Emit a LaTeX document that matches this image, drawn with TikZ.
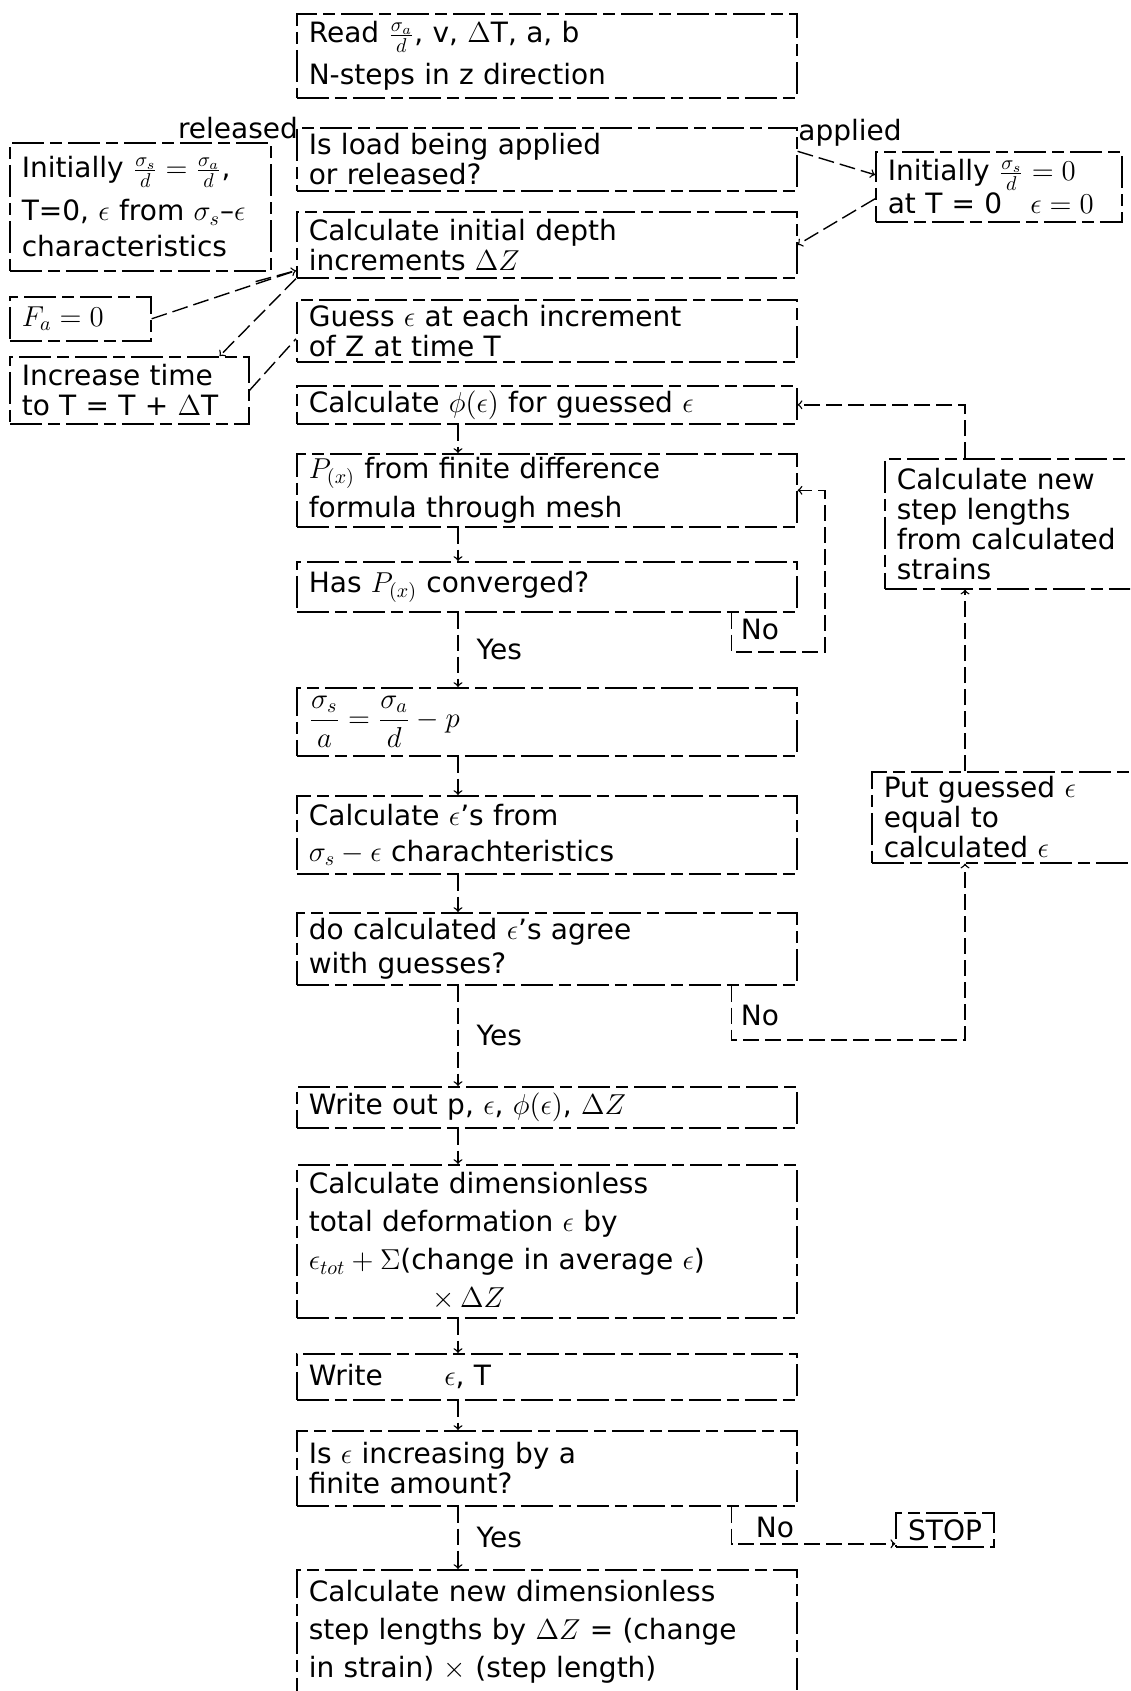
\documentclass[tikz,border=0pt]{standalone}
\usepackage{fontspec}
\setmainfont{DejaVu Sans}
\usetikzlibrary{positioning}

\tikzset{
	stepbox/.style={draw, line width=0.8pt, dash pattern=on 16pt off 3pt on 6pt off 3pt,
		anchor=north west, align=left, inner xsep=6pt, inner ysep=1pt,
		font=\fontsize{14}{15}\selectfont},
	mainbox/.style={stepbox, text width=238pt},
	flow/.style={->, line width=0.7pt, dash pattern=on 8pt off 3pt},
	link/.style={line width=0.7pt, dash pattern=on 8pt off 3pt},
	lbl/.style={font=\fontsize{14}{15}\selectfont, inner sep=1pt}
}

\begin{document}
\begin{tikzpicture}[x=0.5pt, y=-0.5pt]
	\useasboundingbox (0,0) rectangle (1130,1691);
	\clip (0,0) rectangle (1130,1691);
	\coordinate (stem) at (458,0);

	% main column
	\node[mainbox, minimum height=42pt] (read) at (296,13) {Read $\frac{\sigma_a}{d}$, v, $\Delta$T, a, b\\[4pt]N-steps in z direction};
	\node[mainbox, minimum height=31.5pt] (load) at (296,127) {Is load being applied\\or released?};
	\node[mainbox, minimum height=33pt] (calcinit) at (296,211) {Calculate initial depth\\increments $\Delta Z$};
	\node[mainbox, minimum height=31pt] (guess) at (296,299) {Guess $\epsilon$ at each increment\\of Z at time T};
	\node[mainbox, minimum height=19pt] (phi) at (296,385) {Calculate $\phi(\epsilon)$ for guessed $\epsilon$};
	\node[mainbox, minimum height=36.5pt] (px) at (296,453) {$P_{(x)}$ from finite difference\\[3pt]formula through mesh};
	\node[mainbox, minimum height=25pt] (conv) at (296,561) {Has $P_{(x)}$ converged?};
	\node[mainbox, minimum height=34pt] (sig) at (296,687) {$\displaystyle\frac{\sigma_s}{a} = \frac{\sigma_a}{d} - p$};
	\node[mainbox, minimum height=39pt] (calce) at (296,795) {Calculate $\epsilon$'s from\\[3pt]$\sigma_s - \epsilon$ charachteristics};
	\node[mainbox, minimum height=36pt] (agree) at (296,912) {do calculated $\epsilon$'s agree\\[2pt]with guesses?};
	\node[mainbox, minimum height=20.5pt] (writeout) at (296,1086) {Write out p, $\epsilon$, $\phi(\epsilon)$, $\Delta Z$};
	\node[mainbox, minimum height=76.5pt] (dimless) at (296,1164) {Calculate dimensionless\\[4pt]total deformation $\epsilon$ by\\[4pt]$\epsilon_{tot}+\Sigma$(change in average $\epsilon$)\\[4pt]\hspace*{62pt}$\times\,\Delta Z$};
	\node[mainbox, minimum height=23pt] (write2) at (296,1353) {Write\hspace{2.2em}$\epsilon$, T};
	\node[mainbox, minimum height=37.5pt] (incr) at (296,1430) {Is $\epsilon$ increasing by a\\finite amount?};
	\node[mainbox, minimum height=62pt] (calcnew) at (296,1569) {Calculate new dimensionless\\[4pt]step lengths by $\Delta Z$ = (change\\[4pt]in strain) $\times$ (step length)};

	% side boxes
	\node[stepbox, text width=118.5pt, minimum height=64pt] (initR) at (9,142) {Initially $\frac{\sigma_s}{d} = \frac{\sigma_a}{d}$,\\[5pt]T=0, $\epsilon$ from $\sigma_s$--$\epsilon$\\[3pt]characteristics};
	\node[stepbox, text width=58.5pt, minimum height=22pt] (fa) at (9,296) {$F_a = 0$};
	\node[stepbox, text width=107.5pt, minimum height=33.5pt] (incT) at (9,356) {Increase time\\to T = T + $\Delta$T};
	\node[stepbox, text width=111pt, minimum height=35pt] (initA) at (875,151) {Initially $\frac{\sigma_s}{d} = 0$\\at T = 0\hspace{1em}$\epsilon = 0$};
	\node[stepbox, text width=123pt, minimum height=65pt] (newstep) at (884,458) {Calculate new\\step lengths\\from calculated\\strains};
	\node[stepbox, text width=123pt, minimum height=45.5pt] (putg) at (871,771) {Put guessed $\epsilon$\\equal to\\calculated $\epsilon$};
	\node[stepbox, anchor=center, minimum height=17pt] (stop) at (945,1530) {STOP};

	\node[lbl] (rel) at (238,128) {released};
	\node[lbl] (app) at (850,133) {applied};
	\node[lbl] (no1) at (760,629) {No};
	\node[lbl] (no2) at (760,1015) {No};
	\node[lbl] (no3) at (775,1527) {No};

	% connectors
	\draw[flow] ([yshift=4pt]load.east) -- ([yshift=6pt]initA.west);
	\draw[flow] ([yshift=-6pt]initA.west) -- (calcinit.east);
	\coordinate (ci) at ([yshift=4pt]calcinit.south west);
	\draw[flow] ([xshift=-8pt,yshift=-5pt]initR.south east) -- (ci);
	\draw[link] (fa.east) -- (ci);
	\draw[flow] (calcinit.south west) -- ([xshift=-15pt]incT.north east);
	\draw[link] (incT.east) -- ([yshift=-4pt]guess.west);

	\foreach \a/\b in {phi/px, px/conv, sig/calce, calce/agree, writeout/dimless, dimless/write2, write2/incr}
		\draw[flow] (\a.south -| stem) -- (\b.north -| stem);
	\draw[flow] (conv.south -| stem) -- node[lbl, right=8pt] (yes1) {Yes} (sig.north -| stem);
	\draw[flow] (agree.south -| stem) -- node[lbl, right=8pt] (yes2) {Yes} (writeout.north -| stem);
	\draw[flow] (incr.south -| stem) -- node[lbl, right=8pt] (yes3) {Yes} (calcnew.north -| stem);

	\coordinate (loopa) at (825,652);
	\draw[flow] ([xshift=-33pt]conv.south east) |- (loopa) |- (px.east);
	\coordinate (loopb) at (965,1040);
	\draw[flow] ([xshift=-33pt]agree.south east) |- (loopb) -- (putg.south -| loopb);
	\draw[flow] (putg.north -| loopb) -- (newstep.south -| loopb);
	\draw[flow] (newstep.north -| loopb) |- (phi.east);
	\draw[flow] ([xshift=-33pt]incr.south east) |- ([yshift=2pt]stop.south west);
\end{tikzpicture}
\end{document}
